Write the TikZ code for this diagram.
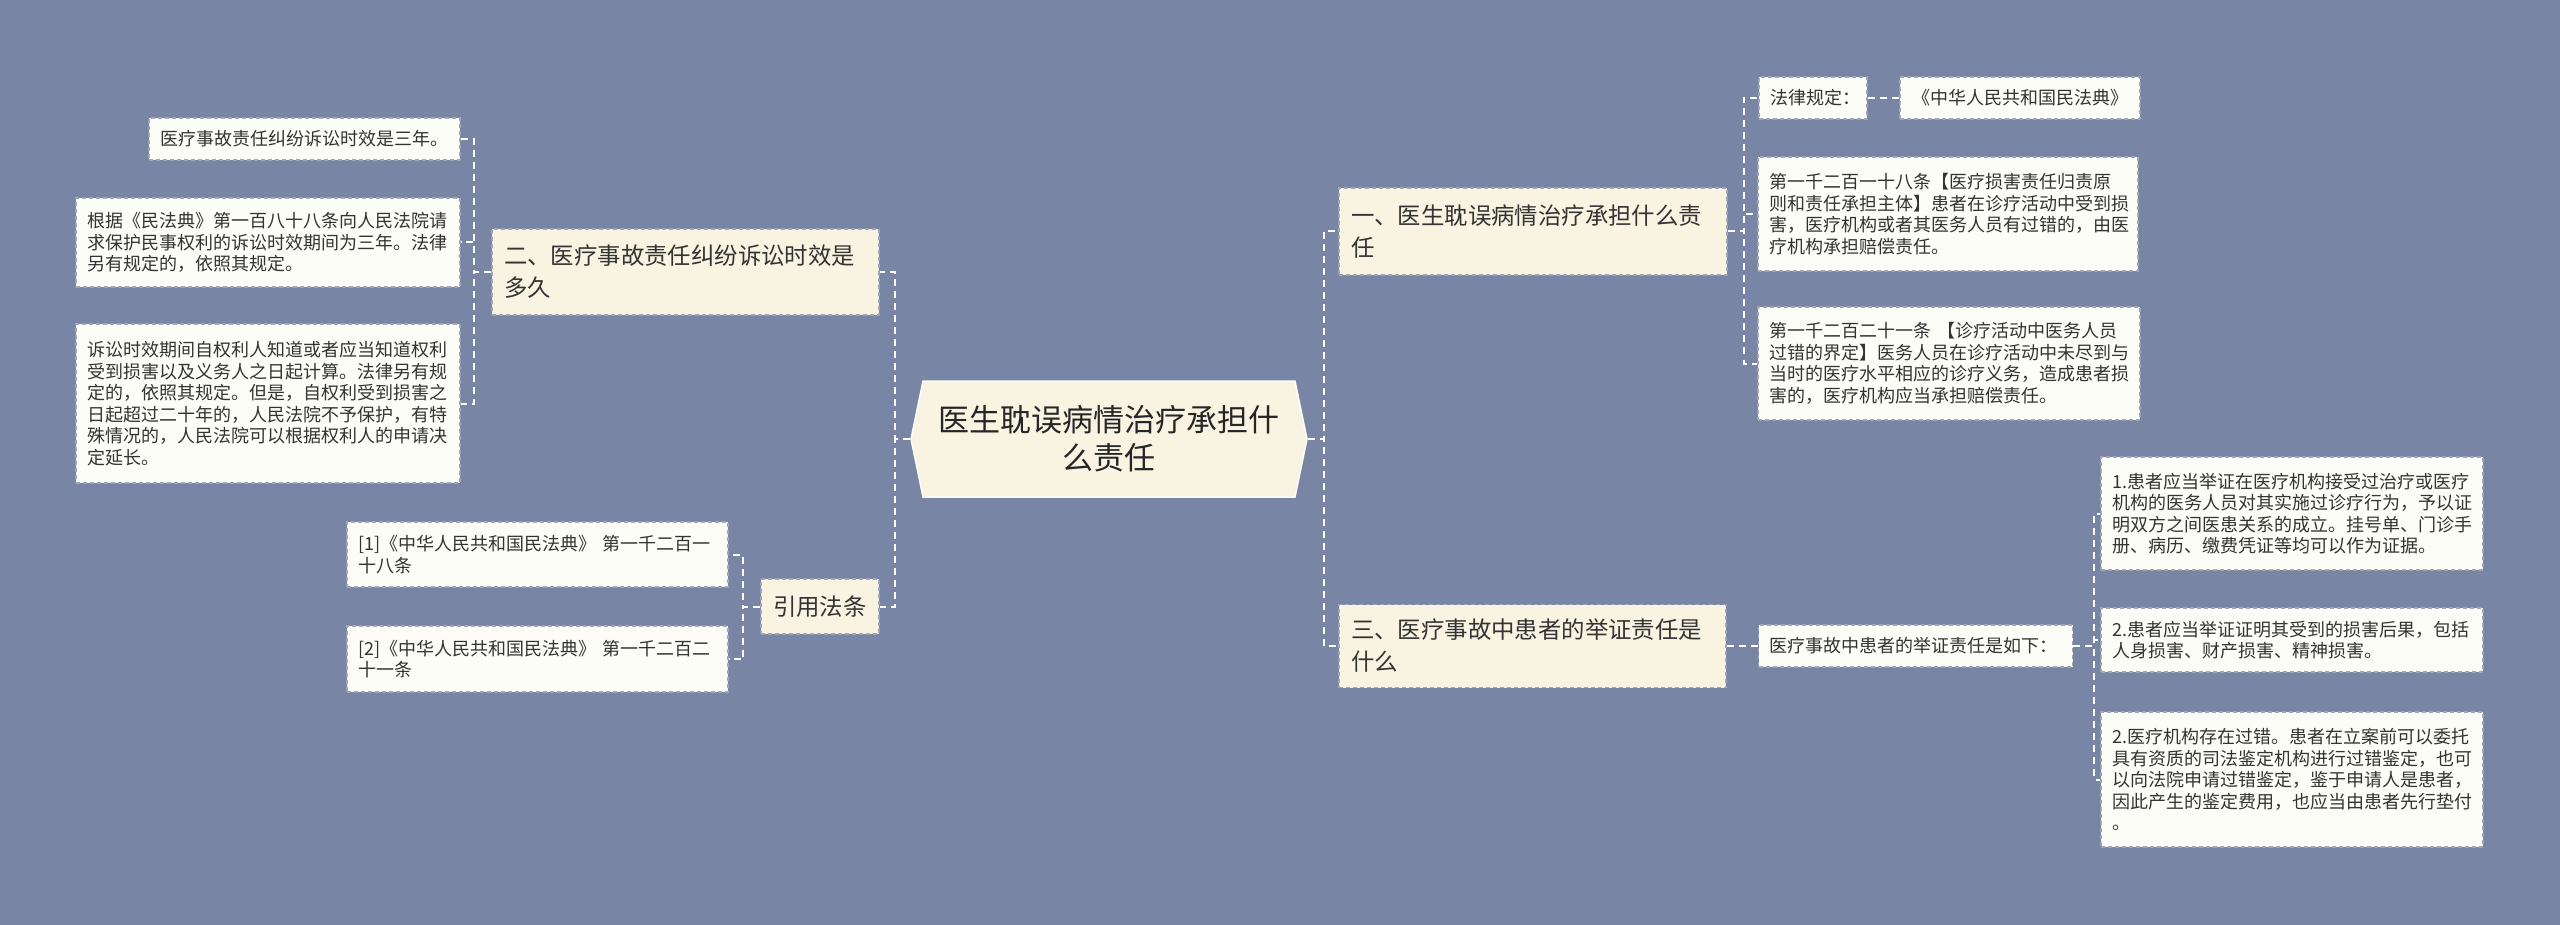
\documentclass[tikz,border=0pt]{standalone}
\usepackage{fontspec}
\setmainfont{Noto Sans CJK SC}
\usetikzlibrary{shapes.symbols}
\definecolor{bgc}{RGB}{121,133,164}
\definecolor{creamfill}{RGB}{248,244,225}
\definecolor{leaffill}{RGB}{253,253,247}
\definecolor{boxborder}{RGB}{160,166,184}
\definecolor{textc}{RGB}{51,51,51}
\begin{document}
\begin{tikzpicture}[x=1pt,y=-1pt,
  conn/.style={draw=white, line width=2pt, dash pattern=on 7pt off 5pt},
  leafbox/.style={draw=boxborder, line width=1.2pt, dash pattern=on 4pt off 3pt, fill=leaffill, text=textc,
    font=\fontsize{18}{21.5}\selectfont, align=left, inner xsep=11pt, inner ysep=0pt},
  mainbox/.style={draw=boxborder, line width=1.2pt, dash pattern=on 4pt off 3pt, fill=creamfill, text=textc,
    font=\fontsize{23.4}{32}\selectfont, align=left, inner xsep=12pt, inner ysep=0pt},
  rootbox/.style={signal, signal to=west and east, signal pointer angle=156.6, draw=white!70!creamfill,
    line width=1.5pt, fill=creamfill, text=black!85, font=\fontsize{31}{38}\selectfont, align=center,
    minimum width=396pt, minimum height=116pt, inner sep=0pt}
]
\fill[bgc] (0,0) rectangle (2560,925);
\useasboundingbox (0,0) rectangle (2560,925);

% root
\node[rootbox] (root) at (1109,439) {医生耽误病情治疗承担什\\么责任};

% left branch 1
\node[mainbox, text width=363pt, minimum height=86pt] (L1) at (685.5,272) {二、医疗事故责任纠纷诉讼时效是\\多久};
\node[leafbox, text width=289pt, minimum height=42pt] (L1a) at (304.5,139) {医疗事故责任纠纷诉讼时效是三年。};
\node[leafbox, text width=362pt, minimum height=89pt] (L1b) at (268,242.5) {根据《民法典》第一百八十八条向人民法院请\\求保护民事权利的诉讼时效期间为三年。法律\\另有规定的，依照其规定。};
\node[leafbox, text width=362pt, minimum height=159pt] (L1c) at (268,403.5) {诉讼时效期间自权利人知道或者应当知道权利\\受到损害以及义务人之日起计算。法律另有规\\定的，依照其规定。但是，自权利受到损害之\\日起超过二十年的，人民法院不予保护，有特\\殊情况的，人民法院可以根据权利人的申请决\\定延长。};

% left branch 2
\node[mainbox, text width=94pt, minimum height=55pt] (L2) at (820,606.5) {引用法条};
\node[leafbox, text width=359pt, minimum height=65pt] (L2a) at (537.5,554.5) {[1]《中华人民共和国民法典》~第一千二百一\\十八条};
\node[leafbox, text width=359pt, minimum height=66pt] (L2b) at (537.5,659) {[2]《中华人民共和国民法典》~第一千二百二\\十一条};

% right branch 1
\node[mainbox, text width=364pt, minimum height=87pt] (R1) at (1533,231.5) {一、医生耽误病情治疗承担什么责\\任};
\node[leafbox, text width=86pt, minimum height=42pt] (R1a) at (1813,98) {法律规定：};
\node[leafbox, align=center, text width=218pt, minimum height=42pt] (R1d) at (2020,98) {《中华人民共和国民法典》};
\node[leafbox, text width=358pt, minimum height=114pt] (R1b) at (1948,214) {第一千二百一十八条【医疗损害责任归责原\\则和责任承担主体】患者在诊疗活动中受到损\\害，医疗机构或者其医务人员有过错的，由医\\疗机构承担赔偿责任。};
\node[leafbox, text width=360pt, minimum height=113pt] (R1c) at (1949,363.5) {第一千二百二十一条~【诊疗活动中医务人员\\过错的界定】医务人员在诊疗活动中未尽到与\\当时的医疗水平相应的诊疗义务，造成患者损\\害的，医疗机构应当承担赔偿责任。};

% right branch 2
\node[mainbox, text width=363pt, minimum height=83pt] (R2) at (1532.5,646) {三、医疗事故中患者的举证责任是\\什么};
\node[leafbox, text width=292pt, minimum height=42pt] (R2a) at (1915.5,646) {医疗事故中患者的举证责任是如下：};
\node[leafbox, text width=360pt, minimum height=113pt] (R2b) at (2292,513.5) {1.患者应当举证在医疗机构接受过治疗或医疗\\机构的医务人员对其实施过诊疗行为，予以证\\明双方之间医患关系的成立。挂号单、门诊手\\册、病历、缴费凭证等均可以作为证据。};
\node[leafbox, text width=360pt, minimum height=64pt] (R2c) at (2292,640) {2.患者应当举证证明其受到的损害后果，包括\\人身损害、财产损害、精神损害。};
\node[leafbox, text width=360pt, minimum height=135pt] (R2d) at (2292,779.5) {2.医疗机构存在过错。患者在立案前可以委托\\具有资质的司法鉴定机构进行过错鉴定，也可\\以向法院申请过错鉴定，鉴于申请人是患者，\\因此产生的鉴定费用，也应当由患者先行垫付\\。};

% connectors
\draw[conn] (root.west) -- ++(-15,0) |- (L1.east);
\draw[conn] (root.west) -- ++(-15,0) |- (L2.east);
\draw[conn] (L1.west) -- ++(-17,0) |- (L1a.east);
\draw[conn] (L1.west) -- ++(-17,0) |- (L1b.east);
\draw[conn] (L1.west) -- ++(-17,0) |- (L1c.east);
\draw[conn] (L2.west) -- ++(-17,0) |- (L2a.east);
\draw[conn] (L2.west) -- ++(-17,0) |- (L2b.east);
\draw[conn] (root.east) -- ++(16,0) |- (R1.west);
\draw[conn] (root.east) -- ++(16,0) |- (R2.west);
\draw[conn] (R1.east) -- ++(16,0) |- (R1a.west);
\draw[conn] (R1.east) -- ++(16,0) |- (R1b.west);
\draw[conn] (R1.east) -- ++(16,0) |- (R1c.west);
\draw[conn] (R1a.east) -- (R1d.west);
\draw[conn] (R2.east) -- (R2a.west);
\draw[conn] (R2a.east) -- ++(21,0) |- (R2b.west);
\draw[conn] (R2a.east) -- ++(21,0) |- (R2c.west);
\draw[conn] (R2a.east) -- ++(21,0) |- (R2d.west);
\end{tikzpicture}
\end{document}
